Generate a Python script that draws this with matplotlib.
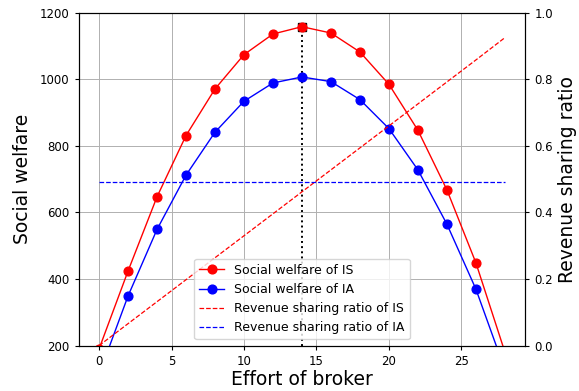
import matplotlib
matplotlib.use("Agg")
import matplotlib.pyplot as plt

# Effort levels of the broker
effort = [0, 2, 4, 6, 8, 10, 12, 14, 16, 18, 20, 22, 24, 26, 28]

# Social welfare under the two schemes
welfare_is = [190, 424, 647, 831, 971, 1074, 1136, 1158, 1139, 1082, 985, 847, 668, 449, 181]
welfare_ia = [113, 349, 549, 712, 841, 934, 989, 1007, 993, 939, 852, 728, 565, 370, 128]

# Revenue sharing ratios
ratio_is = [0.0, 0.066, 0.132, 0.198, 0.264, 0.330, 0.396, 0.462, 0.528, 0.594, 0.660, 0.726, 0.792, 0.858, 0.925]
ratio_ia = [0.493] * len(effort)

best_effort = 14
best_welfare = 1158

plt.rcParams["xtick.labelsize"] = 8.5
plt.rcParams["ytick.labelsize"] = 8.5
plt.rcParams["xtick.major.size"] = 3
plt.rcParams["ytick.major.size"] = 3

fig = plt.figure(figsize=(5.79, 3.91), dpi=100)
ax1 = fig.add_axes([0.136, 0.116, 0.771, 0.8515])
ax2 = ax1.twinx()

ax1.grid(True, color="#b0b0b0", linewidth=0.7)
ax1.plot([best_effort, best_effort], [200, best_welfare], color="black",
         linestyle=":", linewidth=1.4, zorder=2)
ax1.plot([best_effort], [best_welfare], marker="s", color="black",
         markersize=5.6, linestyle="none", zorder=2)
l1, = ax1.plot(effort, welfare_is, color="red", marker="o", linewidth=1,
               markersize=6.3, label="Social welfare of IS", zorder=3)
l2, = ax1.plot(effort, welfare_ia, color="blue", marker="o", linewidth=1,
               markersize=6.3, label="Social welfare of IA", zorder=3)
ax1.set_ylim(200, 1200)
ax1.set_xlim(-1.4, 29.4)
ax1.set_xticks([0, 5, 10, 15, 20, 25])
ax1.set_yticks([200, 400, 600, 800, 1000, 1200])
ax1.set_xlabel("Effort of broker", fontsize=13.5, labelpad=2)
ax1.set_ylabel("Social welfare", fontsize=13.5, labelpad=6)

l3, = ax2.plot(effort, ratio_is, color="red", linestyle="--", linewidth=0.9,
               label="Revenue sharing ratio of IS")
l4, = ax2.plot(effort, ratio_ia, color="blue", linestyle="--", linewidth=0.9,
               label="Revenue sharing ratio of IA")
ax2.set_ylim(0, 1.0)
ax2.set_ylabel("Revenue sharing ratio", fontsize=13.5, labelpad=4)

ax2.legend(handles=[l1, l2, l3, l4], loc="lower center", fontsize=9)

fig.savefig("out.png", dpi=100)
